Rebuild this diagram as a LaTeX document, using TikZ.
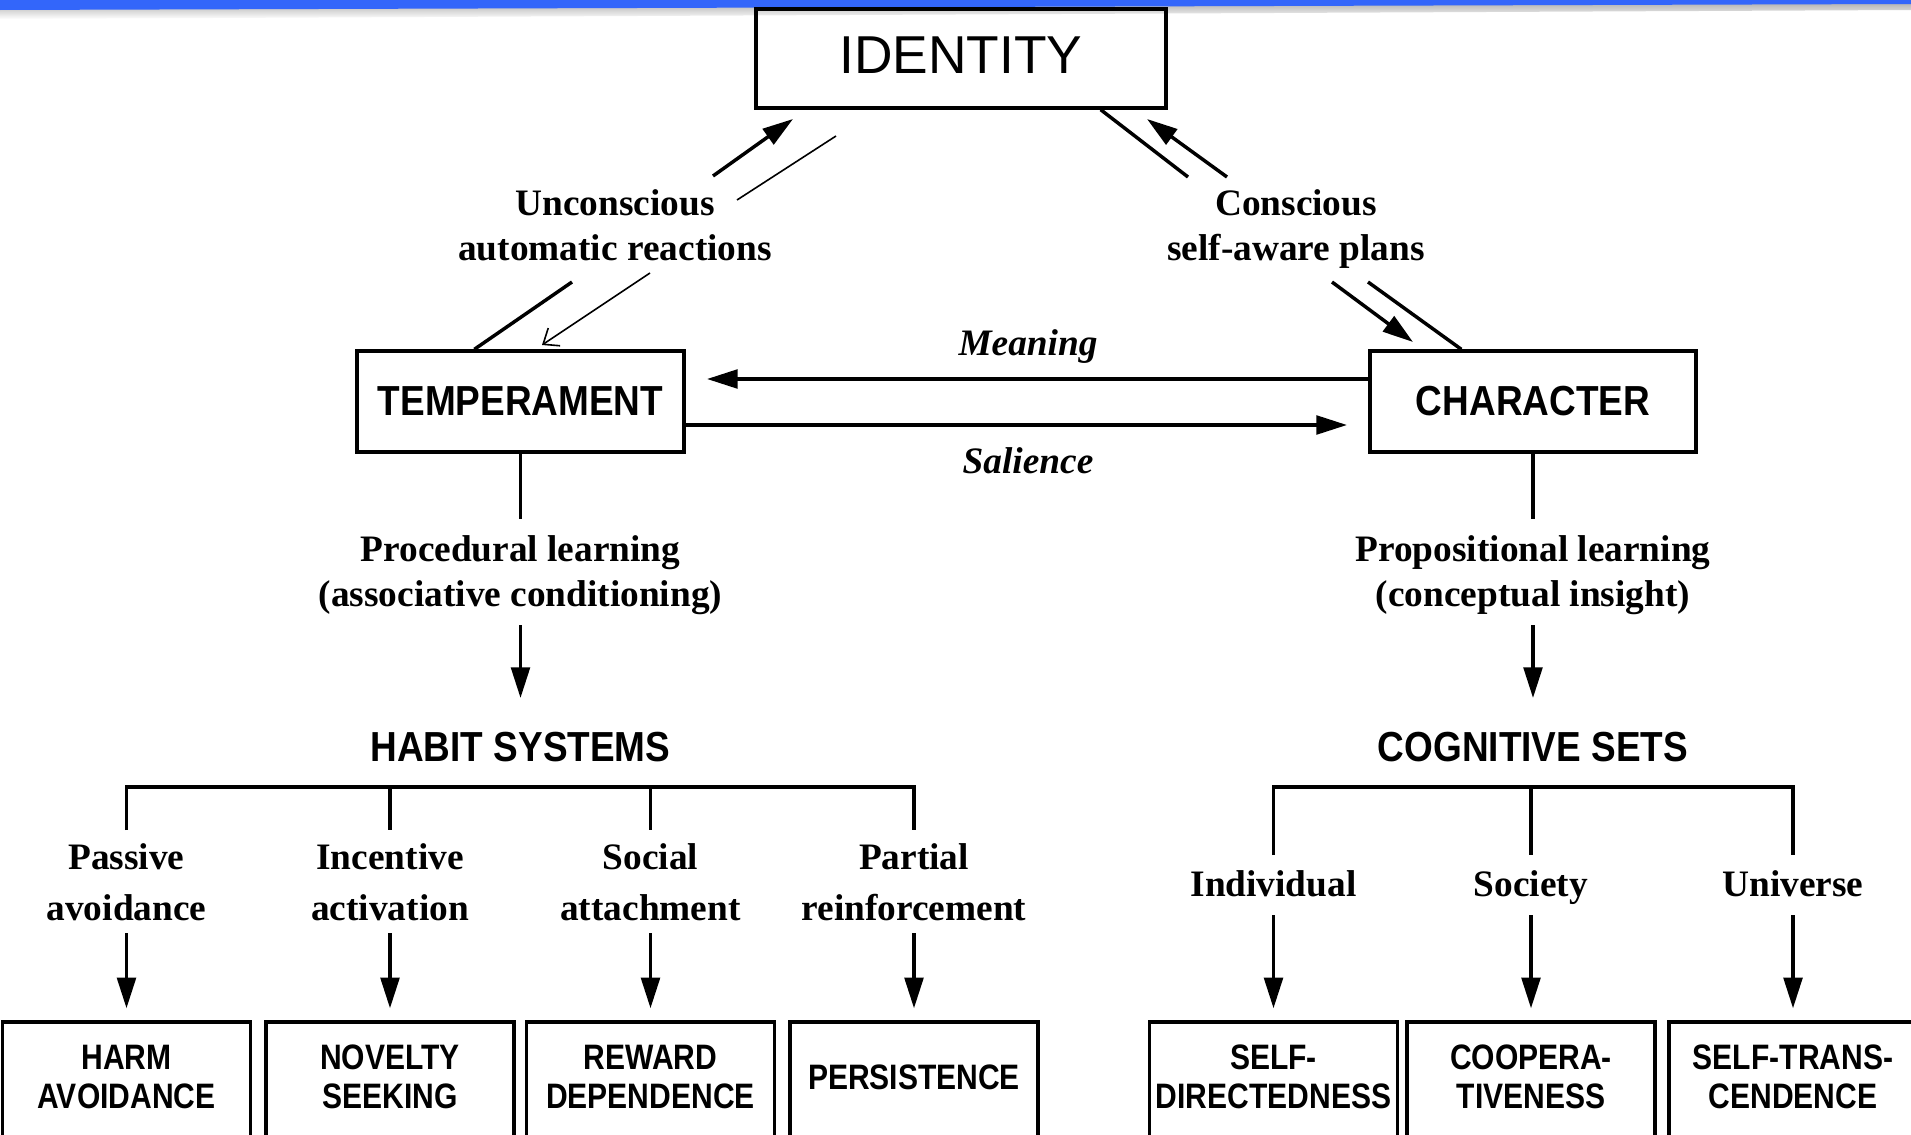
\documentclass[tikz,border=0pt]{standalone}
\usepackage{fontspec}
\setmainfont{Liberation Serif}
\newfontfamily\condb{Liberation Sans Bold}[FakeStretch=0.88]
\newfontfamily\condbs{Liberation Sans Bold}[FakeStretch=0.85]
\newfontfamily\plainsans{Liberation Sans}
\usetikzlibrary{arrows.meta,calc}
\definecolor{topblue}{RGB}{51,102,250}
\begin{document}
\begin{tikzpicture}[x=0.75pt,y=-0.75pt,
  box/.style={draw, line width=2.5pt, inner sep=0pt, align=center},
  bigcond/.style={font=\condb\fontsize{31.5}{36}\selectfont},
  smallcond/.style={font=\condbs\fontsize{26.5}{29.5}\selectfont, text depth=5pt},
  lbl/.style={font=\bfseries\fontsize{28}{34}\selectfont, align=center, inner sep=0pt},
  lbltall/.style={font=\bfseries\fontsize{28}{38}\selectfont, align=center, inner sep=0pt},
  ital/.style={font=\bfseries\itshape\fontsize{28}{34}\selectfont, inner sep=0pt},
  ln/.style={line width=2.6pt},
  arr/.style={line width=2.6pt, -{Triangle[length=23pt,width=14pt]}},
  thinln/.style={line width=1.2pt},
  thinarr/.style={line width=1.2pt, -{Straight Barb[length=10pt,width=16pt]}},
]
\clip (0,0) rectangle (1911,1135);
\useasboundingbox (0,0) rectangle (1911,1135);
\fill[white] (0,0) rectangle (1911,1135);
% top bar
\shade[top color=black!30, bottom color=white] (0,8) -- (1911,3) -- (1911,10) -- (0,19) -- cycle;
\fill[topblue] (0,0) -- (1911,0) -- (1911,4) -- (0,10) -- cycle;

% main boxes
\node[box, minimum width=307.5pt, minimum height=74.25pt, text depth=4.5pt, font=\plainsans\fontsize{40}{48}\selectfont] (id) at (961,58.5) {IDENTITY};
\node[box, bigcond, minimum width=245.25pt, minimum height=75.75pt] (temp) at (520.5,401.5) {TEMPERAMENT};
\node[box, bigcond, minimum width=244.5pt, minimum height=75.75pt] (char) at (1533,401.5) {CHARACTER};

% labels
\node[lbl] (unc) at (615,225) {Unconscious\\automatic reactions};
\node[lbl] (con) at (1296,229) {Conscious\\self-aware plans};
\node[ital] (mean) at (1028,347) {Meaning};
\node[ital] (sal) at (1028,461) {Salience};
\node[lbl] (proc) at (520.5,575) {Procedural learning\\(associative conditioning)};
\node[lbl] (prop) at (1533,575) {Propositional learning\\(conceptual insight)};
\node[bigcond, inner sep=0pt] (habit) at (520.5,747) {HABIT SYSTEMS};
\node[bigcond, inner sep=0pt] (cog) at (1533,747) {COGNITIVE SETS};

\node[lbltall] (pa) at (126.5,882.5) {Passive\\avoidance};
\node[lbltall] (ia) at (390,882.5) {Incentive\\activation};
\node[lbltall] (sa) at (650.5,882.5) {Social\\attachment};
\node[lbltall] (pr) at (914,882.5) {Partial\\reinforcement};
\node[lbl, anchor=base] (ind) at (1273.5,896) {Individual};
\node[lbl, anchor=base] (soc) at (1531,896) {Society};
\node[lbl, anchor=base] (uni) at (1793,896) {Universe};

% bottom boxes
\node[box, smallcond, minimum width=186pt, minimum height=87pt] (ha) at (126.5,1080) {HARM\\AVOIDANCE};
\node[box, smallcond, minimum width=186pt, minimum height=87pt] (ns) at (390,1080) {NOVELTY\\SEEKING};
\node[box, smallcond, minimum width=186pt, minimum height=87pt] (rd) at (650.5,1080) {REWARD\\DEPENDENCE};
\node[box, smallcond, minimum width=186pt, minimum height=87pt] (ps) at (914,1080) {PERSISTENCE};
\node[box, smallcond, minimum width=186pt, minimum height=87pt] (sd) at (1273.5,1080) {SELF-\\DIRECTEDNESS};
\node[box, smallcond, minimum width=186pt, minimum height=87pt] (co) at (1531,1080) {COOPERA-\\TIVENESS};
\node[box, smallcond, minimum width=186pt, minimum height=87pt] (st) at (1793,1080) {SELF-TRANS-\\CENDENCE};

% diagonal connectors
\coordinate (ul1) at (572,282);
\coordinate (ul2) at (713,176);
\coordinate (ul3) at (793,119);
\coordinate (tl1) at (836,136);
\coordinate (tl2) at (737,200);
\coordinate (tl3) at (650,273);
\coordinate (tl4) at (542,345);
\coordinate (ur1) at (1188,177);
\coordinate (ur2) at (1227,177);
\coordinate (ur3) at (1147,119);
\coordinate (ur4) at (1332,282);
\coordinate (ur5) at (1413,342);
\coordinate (ur6) at (1368,282);

\draw[ln] ($(temp.north west)+(119,0)$) -- (ul1);
\draw[arr] (ul2) -- (ul3);
\draw[thinln] (tl1) -- (tl2);
\draw[thinarr] (tl3) -- (tl4);
\draw[ln] ($(id.south east)+(-67,0)$) -- (ur1);
\draw[arr] (ur2) -- (ur3);
\draw[arr] (ur4) -- (ur5);
\draw[ln] (ur6) -- ($(char.north west)+(93,0)$);

% horizontal arrows
\coordinate (mm) at (707,379);
\coordinate (ss) at (1347,425);
\draw[arr] (char.west |- mm) -- (mm);
\draw[arr] (temp.east |- ss) -- (ss);

% verticals
\coordinate (tv) at (520.5,519);
\coordinate (cv) at (1533,519);
\coordinate (ta1) at (520.5,625);
\coordinate (ta2) at (520.5,698);
\coordinate (ca1) at (1533,625);
\coordinate (ca2) at (1533,698);
\draw[ln] (temp.south) -- (tv);
\draw[ln] (char.south) -- (cv);
\draw[arr] (ta1) -- (ta2);
\draw[arr] (ca1) -- (ca2);

% brackets
\draw[ln] (126.5,830) -- (126.5,787) -- (914,787) -- (914,830);
\draw[ln] (390,787) -- (390,830);
\draw[ln] (650.5,787) -- (650.5,830);
\draw[ln] (1273.5,855) -- (1273.5,787) -- (1793,787) -- (1793,855);
\draw[ln] (1531,787) -- (1531,855);

% arrows to bottom boxes
\foreach \b in {ha,ns,rd,ps}{
  \draw[arr, shorten >=9pt] ($(\b.north)+(0,-87)$) -- (\b.north);
}
\foreach \b in {sd,co,st}{
  \draw[arr, shorten >=9pt] ($(\b.north)+(0,-105)$) -- (\b.north);
}
\end{tikzpicture}
\end{document}
